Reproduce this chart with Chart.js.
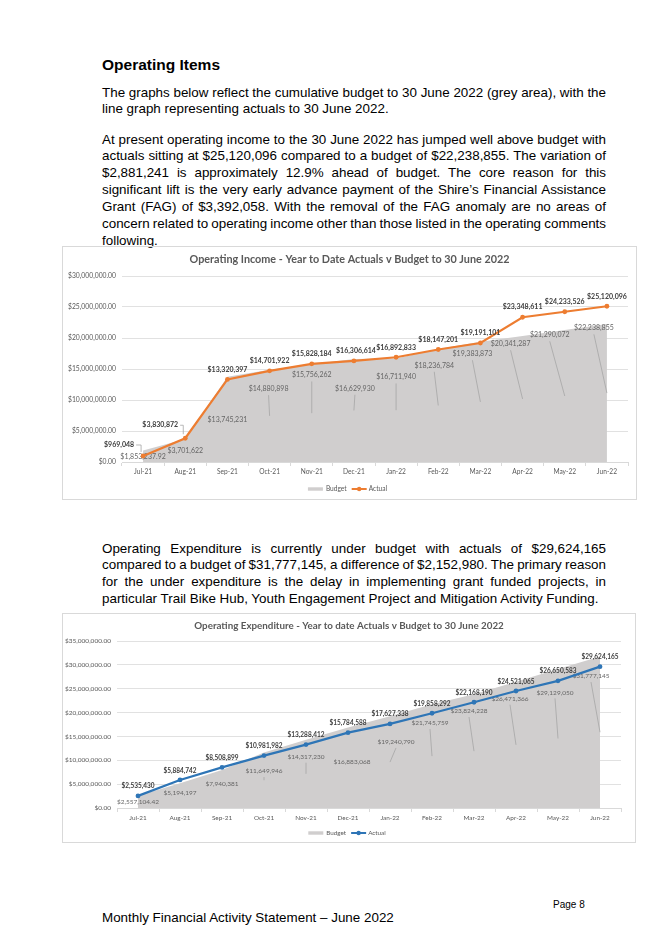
<!DOCTYPE html>
<html><head><meta charset="utf-8">
<script src="https://cdn.jsdelivr.net/npm/chart.js@4.4.1/dist/chart.umd.min.js"></script>
<style>
html,body{margin:0;padding:0;background:#fff}
body{width:666px;height:941px;position:relative;overflow:hidden;font-family:"Liberation Sans",Arial,sans-serif;color:#000}
h1{position:absolute;left:102px;top:56px;margin:0;font-size:15.5px;font-weight:bold;line-height:18px}
.p{position:absolute;left:102px;width:504px;font-size:13.4px;line-height:16.9px}
.p div{white-space:nowrap;text-align:left}
.frame{position:absolute;left:62px}
.frame canvas{display:block}
.foot{position:absolute;left:102px;top:909px;font-size:13.4px;line-height:17px}
.pg{position:absolute;left:553px;top:899px;font-size:10px;line-height:12px}
</style></head>
<body>
<h1>Operating Items</h1>
<div class="p" style="top:84.5px">
<div class="j">The graphs below reflect the cumulative budget to 30 June 2022 (grey area), with the</div>
<div>line graph representing actuals to 30 June 2022.</div>
</div>
<div class="p" style="top:131.5px">
<div class="j">At present operating income to the 30 June 2022 has jumped well above budget with</div>
<div class="j">actuals sitting at $25,120,096 compared to a budget of $22,238,855. The variation of</div>
<div class="j">$2,881,241 is approximately 12.9% ahead of budget. The core reason for this</div>
<div class="j">significant lift is the very early advance payment of the Shire’s Financial Assistance</div>
<div class="j">Grant (FAG) of $3,392,058. With the removal of the FAG anomaly are no areas of</div>
<div class="j">concern related to operating income other than those listed in the operating comments</div>
<div>following.</div>
</div>
<div class="frame" style="top:246px"><canvas id="c1"></canvas></div>
<div class="p" style="top:540.5px">
<div class="j">Operating Expenditure is currently under budget with actuals of $29,624,165</div>
<div class="j">compared to a budget of $31,777,145, a difference of $2,152,980. The primary reason</div>
<div class="j">for the under expenditure is the delay in implementing grant funded projects, in</div>
<div>particular Trail Bike Hub, Youth Engagement Project and Mitigation Activity Funding.</div>
</div>
<div class="frame" style="top:613px"><canvas id="c2"></canvas></div>
<div class="pg">Page 8</div>
<div class="foot">Monthly Financial Activity Statement – June 2022</div>
<script>
const MONTHS = ['Jul-21','Aug-21','Sep-21','Oct-21','Nov-21','Dec-21','Jan-22','Feb-22','Mar-22','Apr-22','May-22','Jun-22'];
const SERIES_NAMES = ['Budget','Actual'];
const INCOME_TITLE = 'Operating Income - Year to Date Actuals v Budget to 30 June 2022';
const INCOME_BUDGET = [1853237.92, 3701622, 13745231, 14880898, 15756262, 16629930, 16711940, 18236784, 19383873, 20341287, 21290072, 22238855];
const INCOME_ACTUAL = [969048, 3830872, 13320397, 14701922, 15828184, 16306614, 16892833, 18147201, 19191101, 23348611, 24233526, 25120096];
const EXPENSE_TITLE = 'Operating Expenditure - Year to date Actuals v Budget to 30 June 2022';
const EXPENSE_BUDGET = [2557104.42, 5194197, 7940381, 11649946, 14317230, 16883068, 19240790, 21745759, 23824228, 26471366, 29129050, 31777145];
const EXPENSE_ACTUAL = [2535430, 5884742, 8508899, 10981982, 13288412, 15784588, 17627338, 19858292, 22168190, 24521065, 26650583, 29624165];

// justify each full line to the text width
document.querySelectorAll('.p div.j').forEach(d=>{
  const span=document.createElement('span');span.textContent=d.textContent;d.textContent='';d.appendChild(span);
  const nat=span.getBoundingClientRect().width;
  const n=(span.textContent.match(/ /g)||[]).length;
  if(n>0) span.style.wordSpacing=((504-nat)/n)+'px';
});

const AREA = '#D0CECE';
function fmt(v){const d=Math.round(v)!==v;return '$'+v.toLocaleString('en-US',{minimumFractionDigits:d?2:0,maximumFractionDigits:d?2:0});}
function tickFmt(v){return '$'+Number(v).toLocaleString('en-US',{minimumFractionDigits:2,maximumFractionDigits:2});}

function makePlugin(cfg){
  return {
    id:'xl',
    afterDatasetDraw(chart,args){
      if(args.index!==0) return;
      const ctx=chart.ctx, ys=chart.scales.y, vals=chart.data.datasets[0].data;
      ctx.save();
      ctx.font=cfg.labelSize+'px Lato';ctx.textAlign='center';ctx.textBaseline='middle';
      args.meta.data.forEach((p,i)=>{
        const mid=ys.getPixelForValue(vals[i]/2);
        const off=cfg.budgetOff[i];
        const lx=p.x+off[0], ly=mid+off[1];
        if(off[1]<-8){
          ctx.strokeStyle='#a6a6a6';ctx.lineWidth=0.8;ctx.beginPath();
          ctx.moveTo(lx,ly+cfg.labelSize*0.9);ctx.lineTo(p.x,mid);ctx.stroke();
        }
        ctx.fillStyle='#666666';ctx.fillText(fmt(vals[i]),lx,ly);
      });
      ctx.restore();
    },
    afterDatasetsDraw(chart){
      const ctx=chart.ctx, meta=chart.getDatasetMeta(1), vals=chart.data.datasets[1].data;
      ctx.save();
      ctx.font='bold '+cfg.labelSize+'px Lato';ctx.textAlign='center';ctx.textBaseline='middle';
      meta.data.forEach((p,i)=>{
        const off=cfg.actualOff[i]||[0,-10];
        const lx=p.x+off[0], ly=p.y+off[1], txt=fmt(vals[i]);
        if(Math.abs(off[0])>10){
          const w=ctx.measureText(txt).width;
          ctx.strokeStyle='#a6a6a6';ctx.lineWidth=0.8;ctx.beginPath();
          ctx.moveTo(lx+w/2+2,ly);ctx.lineTo(p.x-2,ly);ctx.lineTo(p.x-2,p.y-4);ctx.stroke();
        }
        ctx.fillStyle='#404040';ctx.fillText(txt,lx,ly);
      });
      ctx.restore();
    },
    afterDraw(chart){
      const ctx=chart.ctx, W=chart.width, H=chart.height;
      ctx.save();
      ctx.strokeStyle='#d9d9d9';ctx.lineWidth=1;ctx.strokeRect(0.5,0.5,W-1,H-1);
      ctx.font='bold '+cfg.titleSize+'px Lato';ctx.fillStyle='#595959';ctx.textAlign='center';ctx.textBaseline='middle';
      ctx.fillText(cfg.title,W/2,cfg.titleY);
      const y=cfg.legendY, names=chart.data.datasets.map(d=>d.label);
      ctx.font=cfg.legendSize+'px Lato';ctx.textAlign='left';
      const wB=ctx.measureText(names[0]).width, wA=ctx.measureText(names[1]).width;
      const total=15+3+wB+5+15+2+wA;
      let x=W/2-total/2-2;
      ctx.fillStyle=AREA;ctx.fillRect(x,y-1.7,15,3.4);
      x+=18;ctx.fillStyle='#595959';ctx.fillText(names[0],x,y);
      x+=wB+5;
      ctx.strokeStyle=cfg.color;ctx.lineWidth=2;ctx.beginPath();ctx.moveTo(x,y);ctx.lineTo(x+15,y);ctx.stroke();
      ctx.fillStyle=cfg.color;ctx.beginPath();ctx.arc(x+7.5,y,2.2,0,Math.PI*2);ctx.fill();
      x+=17;ctx.fillStyle='#595959';ctx.fillText(names[1],x,y);
      ctx.restore();
    }
  };
}

function makeChart(id,budget,actual,cfg){
  const cv=document.getElementById(id);
  cv.width=cfg.w;cv.height=cfg.h;cv.style.width=cfg.w+'px';cv.style.height=cfg.h+'px';
  return new Chart(cv,{
    type:'line',
    data:{labels:MONTHS,datasets:[
      {label:SERIES_NAMES[0],data:budget,fill:'origin',backgroundColor:AREA,borderWidth:0,borderColor:'rgba(0,0,0,0)',pointRadius:0,pointHoverRadius:0,order:2,tension:0},
      {label:SERIES_NAMES[1],data:actual,fill:false,borderColor:cfg.color,backgroundColor:cfg.color,borderWidth:2.2,pointRadius:2.4,pointHoverRadius:2.4,pointBorderWidth:0,order:1,tension:0}
    ]},
    options:{
      responsive:false,animation:false,
      layout:{padding:{top:cfg.top,right:cfg.right,left:0,bottom:0}},
      plugins:{legend:{display:false},title:{display:false},tooltip:{enabled:false}},
      events:[],
      scales:{
        x:{type:'category',offset:true,
          grid:{display:true,drawOnChartArea:false,drawTicks:true,tickLength:4,color:'#d9d9d9',offset:true},
          border:{display:true,color:'#d9d9d9'},
          ticks:{color:'#595959',font:{family:'Lato',size:cfg.xFont},padding:2,maxRotation:0,autoSkip:false},
          afterFit:s=>{s.height=cfg.xH;}},
        y:{min:0,max:cfg.max,
          ticks:{stepSize:5000000,color:'#595959',font:{family:'Lato',size:cfg.yFont},padding:6,callback:v=>tickFmt(v)},
          grid:{color:'#d9d9d9',drawTicks:false,lineWidth:0.8},
          border:{display:false},
          afterFit:s=>{s.width=cfg.yW;}}
      }
    },
    plugins:[makePlugin(cfg)]
  });
}

const CFG1={w:575,h:254,top:30,right:9,yW:60,xH:38,max:30000000,yFont:6.8,xFont:6.6,labelSize:7,titleSize:10.8,titleY:14,legendY:243,legendSize:6.6,color:'#ED7D31',title:INCOME_TITLE,
  budgetOff:[[0,0],[0,0],[0,0],[-1,-27],[0,-38],[1,-22],[0,-33],[-4,-40],[-8,-48],[-12,-55],[-15,-61],[-13,-65]],
  actualOff:[[-24,-11],[-25,-13],[0,-10],[0,-10],[0,-10],[2,-10],[0,-10],[0,-10],[0,-10],[0,-10],[0,-10],[0,-10]]};
const CFG2={w:574,h:230,top:28,right:15,yW:55,xH:35,max:35000000,yFont:6.5,xFont:6.4,labelSize:6.5,titleSize:9.8,titleY:12.7,legendY:220,legendSize:6.3,color:'#2E75B6',title:EXPENSE_TITLE,
  budgetOff:[[0,0],[0,-3],[0,-5],[0,-9],[0,-17],[4,-6],[6,-20],[-2,-33],[-5,-40],[-6,-46],[-3,-46],[-9,-56]],
  actualOff:[[0,-9.5],[0,-9.5],[0,-9.5],[0,-9.5],[0,-9.5],[0,-9.5],[0,-9.5],[0,-9.5],[0,-9.5],[0,-9.5],[0,-9.5],[0,-9.5]]};

function build(){
  makeChart('c1',INCOME_BUDGET,INCOME_ACTUAL,CFG1);
  makeChart('c2',EXPENSE_BUDGET,EXPENSE_ACTUAL,CFG2);
}
if(document.fonts&&document.fonts.load){
  Promise.all([document.fonts.load('10px Lato'),document.fonts.load('bold 10px Lato')]).then(build,build);
}else build();
</script>
</body></html>
